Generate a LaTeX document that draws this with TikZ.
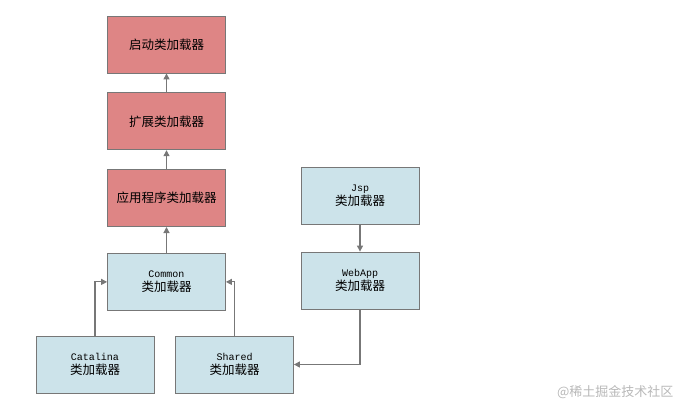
\documentclass[tikz,border=0pt]{standalone}
\usepackage{fontspec}
\newfontfamily\cjk{Noto Sans CJK SC}
\setmonofont{Liberation Mono}
\usetikzlibrary{arrows.meta,positioning}

\definecolor{loadred}{HTML}{DE8585}
\definecolor{loadblue}{HTML}{CCE3EA}
\definecolor{edgegray}{HTML}{777777}

\tikzset{
  loader/.style={draw=edgegray, line width=0.8bp, minimum width=118bp, minimum height=57bp,
    inner sep=0pt, align=center, font=\cjk\fontsize{12.5bp}{14bp}\selectfont},
  redloader/.style={loader, fill=loadred},
  blueloader/.style={loader, fill=loadblue},
  parent/.style={draw=edgegray, line width=1.1bp, -{Triangle[width=6bp,length=6bp]}},
}

\newcommand{\tname}[1]{{\ttfamily\fontsize{10bp}{12bp}\selectfont #1}\\}

\begin{document}
\begin{tikzpicture}[x=1bp, y=1bp]
\useasboundingbox (0,0) rectangle (690,414);

\def\xl{166.5};
\def\xr{360};

% the three fixed loaders
\node[redloader] (bootstrap) at (\xl, 369.5) {启动类加载器};
\node[redloader, below=19bp of bootstrap] (extension) {扩展类加载器};
\node[redloader, below=19bp of extension] (application) {应用程序类加载器};

% tomcat loaders
\node[blueloader, below=26bp of application] (common) {\tname{Common}类加载器};
\node[blueloader] (catalina) at (95, 49.5) {\tname{Catalina}类加载器};
\node[blueloader] (shared) at (234.5, 49.5) {\tname{Shared}类加载器};

\node[blueloader] (webapp) at (\xr, 133.5) {\tname{WebApp}类加载器};
\node[blueloader, above=27bp of webapp] (jsp) {\tname{Jsp}类加载器};

% delegation
\draw[parent] (extension) -- (bootstrap);
\draw[parent] (application) -- (extension);
\draw[parent] (common) -- (application);
\draw[parent] (catalina.north) |- (common.west);
\draw[parent] (shared.north) |- (common.east);
\draw[parent] (jsp) -- (webapp);
\draw[parent] (webapp.south) |- (shared.east);

% watermark
\node[text=black!28, font=\cjk\fontsize{13bp}{15bp}\selectfont, anchor=east] (mark) at (677, 22) {@稀土掘金技术社区};

\end{tikzpicture}
\end{document}
